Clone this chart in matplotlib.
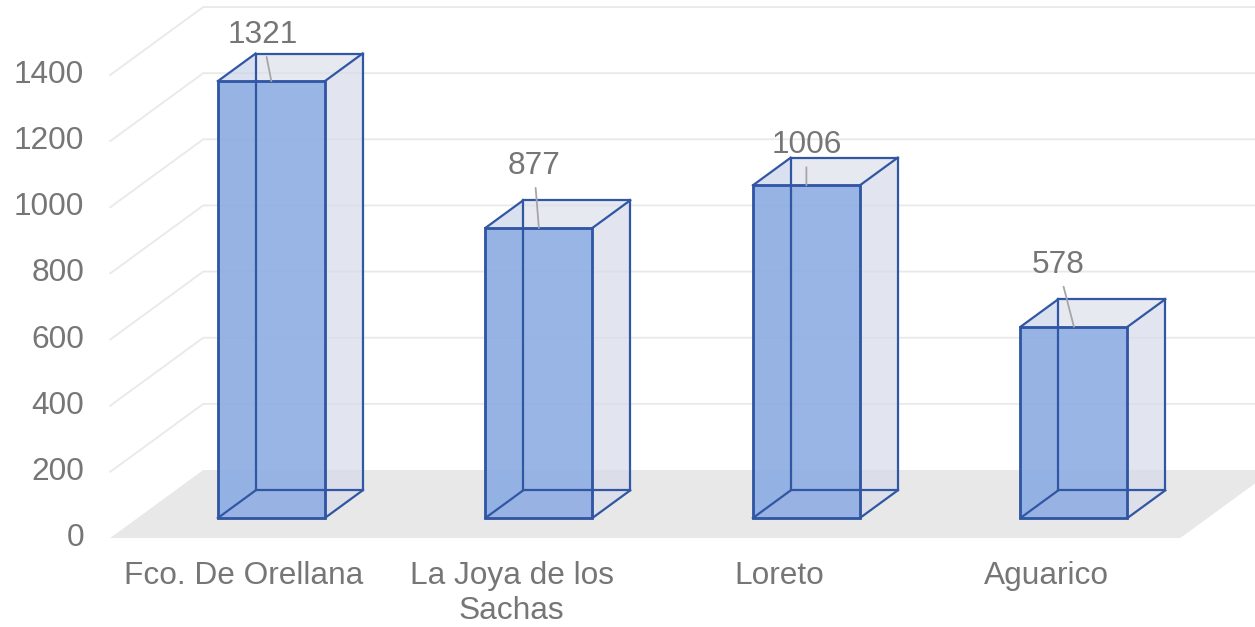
import matplotlib.pyplot as plt
from matplotlib.patches import Polygon

plt.rcParams['font.family'] = ['Liberation Sans', 'DejaVu Sans']

categories = ['Fco. De Orellana', 'La Joya de los\nSachas', 'Loreto', 'Aguarico']
values = [1321, 877, 1006, 578]
ticks = [0, 200, 400, 600, 800, 1000, 1200, 1400]

# pseudo-3d layout (depth vector in data units)
DX, DY = 0.3477, 205.6
F1, F2 = 0.294, 0.70
HALF = 0.2
label_offsets = [(-9, 38), (-5, 54), (0, 32), (-16, 54)]

TXT = '#767676'
EDGE = '#3156A3'
FRONT = '#8FAEE3'
GRID = '#E9E9E9'
FS = 22.8


def P(x, v, d):
    return (x + d * DX, v + d * DY)


def seg(a, b, **kw):
    ax.plot([a[0], b[0]], [a[1], b[1]], **kw)


fig = plt.figure(figsize=(12.55, 6.27), dpi=100)
ax = fig.add_axes([0, 0, 1, 1])
ax.set_xlim(-0.912, 3.779)
ax.set_ylim(-269.1, 1626.8)
ax.axis('off')

x0, x1 = -0.5, len(categories) - 0.5

# gridlines: left wall diagonals and back wall
for t in ticks[1:]:
    a = P(x0, t, 0)
    b = P(x0, t, 1)
    c = P(x1 + 1.0, t, 1)
    ax.plot([a[0], b[0], c[0]], [a[1], b[1], c[1]], color=GRID, lw=1.3, zorder=1)

# floor
floor = [P(x0, 0, 0), P(x1, 0, 0), P(x1, 0, 1), P(x0, 0, 1)]
ax.add_patch(Polygon(floor, closed=True, facecolor='#E8E8E8', edgecolor='none', zorder=2))

for t in ticks:
    ax.annotate(str(t), xy=(x0, t), xytext=(-26, 0), textcoords='offset pixels',
                ha='right', va='center', fontsize=FS, color=TXT)

for i, (cat, v) in enumerate(zip(categories, values)):
    l, r = i - HALF, i + HALF
    # hidden back / left faces
    back = [P(l, 0, F2), P(r, 0, F2), P(r, v, F2), P(l, v, F2)]
    left = [P(l, 0, F1), P(l, 0, F2), P(l, v, F2), P(l, v, F1)]
    ax.add_patch(Polygon(back, closed=True, facecolor='#DDE2EE', alpha=0.35, edgecolor='none', zorder=3))
    ax.add_patch(Polygon(left, closed=True, facecolor=FRONT, alpha=0.35, edgecolor='none', zorder=3))

    # right side and top
    side = [P(r, 0, F1), P(r, 0, F2), P(r, v, F2), P(r, v, F1)]
    top = [P(l, v, F1), P(r, v, F1), P(r, v, F2), P(l, v, F2)]
    ax.add_patch(Polygon(side, closed=True, facecolor='#D5DAE8', alpha=0.55, edgecolor='none', zorder=5))
    ax.add_patch(Polygon(top, closed=True, facecolor='#DCDFEA', alpha=0.5, edgecolor='none', zorder=5))

    # front face
    front = [P(l, 0, F1), P(r, 0, F1), P(r, v, F1), P(l, v, F1)]
    ax.add_patch(Polygon(front, closed=True, facecolor=FRONT, alpha=0.9,
                         edgecolor=EDGE, lw=1.8, zorder=7))

    # box edges (seen through the transparent faces)
    ek = dict(color=EDGE, lw=1.6, zorder=8)
    seg(P(l, 0, F2), P(r, 0, F2), **ek)
    seg(P(l, 0, F2), P(l, v, F2), **ek)
    seg(P(r, 0, F2), P(r, v, F2), **ek)
    seg(P(l, v, F2), P(r, v, F2), **ek)
    for xx, vv in [(l, 0), (r, 0), (r, v), (l, v)]:
        seg(P(xx, vv, F1), P(xx, vv, F2), **ek)
    ax.add_patch(Polygon(front, closed=True, facecolor='none', edgecolor=EDGE, lw=1.8, zorder=8))

    # data label with leader
    ax.annotate(str(v), xy=P(i, v, F1), xytext=label_offsets[i], textcoords='offset pixels',
                ha='center', va='baseline', fontsize=FS, color=TXT, zorder=9,
                arrowprops=dict(arrowstyle='-', color='#A6A6A6', lw=1.3, shrinkA=3, shrinkB=0))

    # category label
    ax.annotate(cat, xy=(i, 0), xytext=(0, -23), textcoords='offset pixels',
                ha='center', va='top', fontsize=FS, color=TXT, linespacing=1.2)

fig.savefig('out.png', dpi=100)
